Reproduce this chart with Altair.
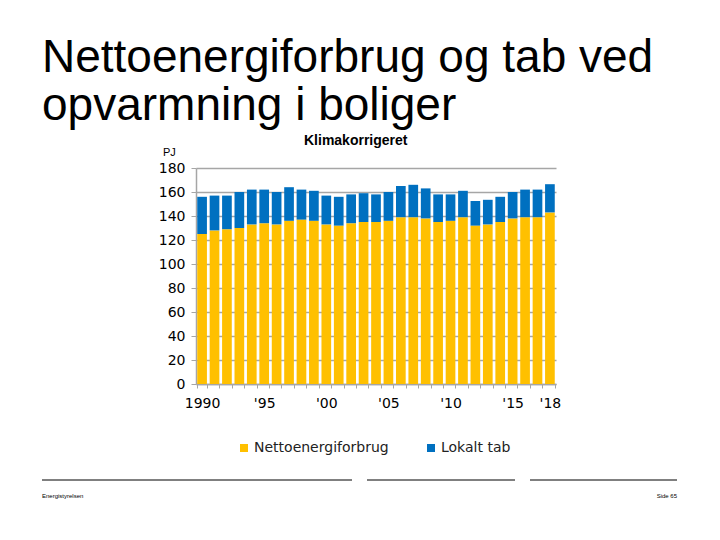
import altair as alt
import pandas as pd

years = list(range(1990, 2019))
netto = [125, 128, 129, 130, 133, 134, 133, 136, 137, 136, 133, 132, 134, 135, 135,
         136, 139, 139, 138, 135, 136, 139, 132, 133, 135, 138, 139, 139, 143]
tab = [31, 29, 28, 30, 29, 28, 27, 28, 25, 25, 24, 24, 24, 24, 23,
       24, 26, 27, 25, 23, 22, 22, 20.5, 20.5, 21, 22, 23, 23, 23.5]
series = ["Nettoenergiforbrug", "Lokalt tab"]
colors = ["#FFC000", "#0070C0"]

rows = []
for y, n, t in zip(years, netto, tab):
    rows.append({"year": y, "series": series[0], "value": n, "order": 0})
    rows.append({"year": y, "series": series[1], "value": t, "order": 1})
df = pd.DataFrame(rows)

FONT = "DejaVu Sans"
label_expr = ("datum.value == 1990 ? '1990' : ((datum.value % 5 == 0 || datum.value == 2018) ? "
              "\"'\" + substring(toString(datum.value), 2, 4) : '')")

bars = alt.Chart(df).mark_bar().encode(
    x=alt.X("year:O", title=None,
            scale=alt.Scale(paddingInner=0.22, paddingOuter=0.1),
            axis=alt.Axis(labelExpr=label_expr, labelAngle=0, tickBand="extent",
                          tickSize=4, tickColor="#A6A6A6", domainColor="#A6A6A6",
                          domainWidth=1.5, labelFont=FONT, labelFontSize=14,
                          labelColor="#000000", labelPadding=8, grid=False)),
    y=alt.Y("value:Q", title=None, stack="zero",
            scale=alt.Scale(domain=[0, 180], nice=False),
            axis=alt.Axis(values=list(range(0, 181, 20)), tickSize=5, tickColor="#A6A6A6",
                          domainColor="#A6A6A6", domainWidth=1.5, gridColor="#A6A6A6",
                          gridWidth=1.5, labelFont=FONT, labelFontSize=14,
                          labelColor="#000000", labelPadding=6)),
    color=alt.Color("series:N", scale=alt.Scale(domain=series, range=colors),
                    legend=alt.Legend(title=None, orient="none", direction="horizontal",
                                      legendX=41, legendY=273, symbolType="square",
                                      symbolSize=64, symbolStrokeWidth=0, labelFont=FONT,
                                      labelFontSize=14, labelColor="#222222",
                                      columnPadding=35, padding=0, labelOffset=3)),
    order=alt.Order("order:Q"),
)

one = pd.DataFrame([{"a": 0}])

def txt(text, x, y, size, weight="normal", font="Liberation Sans", align="left", color="#000000"):
    return alt.Chart(one).mark_text(align=align, baseline="alphabetic", fontSize=size,
                                    fontWeight=weight, font=font, color=color).encode(
        x=alt.value(x), y=alt.value(y), text=alt.value(text))

title1 = txt("Nettoenergiforbrug og tab ved", -154, -96, 46)
title2 = txt("opvarmning i boliger", -154, -48, 46)
sub = txt("Klimakorrigeret", 108, -23, 14, weight="bold")
unit = txt("PJ", -33, -12, 11)
foot1 = txt("Energistyrelsen", -154, 330, 6)
foot2 = txt("Side 65", 481, 330, 6, align="right")

def rule(x1, x2, y):
    return alt.Chart(one).mark_rule(color="#000000", strokeWidth=1).encode(
        x=alt.value(x1), x2=alt.value(x2), y=alt.value(y))

lines = rule(-154, 156, 312) + rule(171, 319, 312) + rule(334, 481, 312)

chart = alt.layer(bars, title1, title2, sub, unit, foot1, foot2, lines).properties(
    width=360, height=216,
    autosize=alt.AutoSizeParams(type="none"),
    padding={"left": 188, "top": 160, "right": 156, "bottom": 148},
).configure_view(stroke=None)

chart.save("out.html", embed_options={"renderer": "svg", "actions": False})
